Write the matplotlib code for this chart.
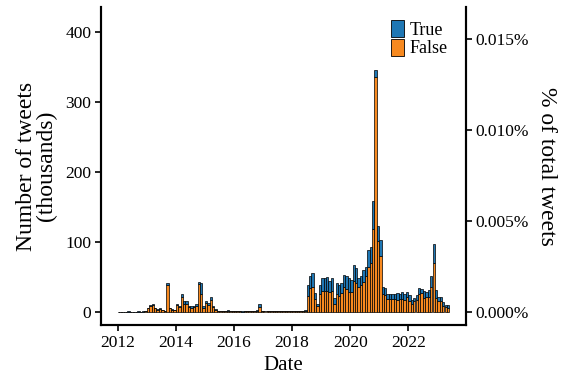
import numpy as np
import pandas as pd
import matplotlib
matplotlib.use("Agg")
import matplotlib.pyplot as plt
import matplotlib.dates as mdates
from matplotlib.patches import Patch
from matplotlib.ticker import FuncFormatter, MultipleLocator

plt.rcParams['font.family'] = ['Liberation Serif', 'DejaVu Serif']

# Monthly tweet counts (thousands), Jan 2012 - May 2023
months = pd.date_range("2012-01-01", "2023-05-01", freq="MS")

true_k = [
    # 2012
    0.1, 0.1, 0.1, 0.1, 0.2, 0.1, 0.1, 0.1, 0.2, 0.1, 0.2, 0.3,
    # 2013
    1, 2, 2, 1, 0.5, 1, 0.5, 0.5, 3, 1, 0.5, 0.5,
    # 2014
    2, 2, 5, 4, 4, 2, 2, 2, 3, 3, 16, 2,
    # 2015
    3, 3, 5, 2, 1, 0.5, 0.5, 0.3, 0.4, 0.8, 0.4, 0.3,
    # 2016
    0.3, 0.4, 0.3, 0.3, 0.4, 0.3, 0.3, 0.4, 0.3, 1, 5, 0.5,
    # 2017
    0.4, 0.3, 0.4, 0.5, 0.4, 0.3, 0.4, 0.5, 0.4, 0.4, 0.5, 0.4,
    # 2018
    0.5, 0.4, 0.5, 0.6, 0.5, 0.6, 16, 18, 19, 8, 4, 13,
    # 2019
    19, 18, 20, 16, 19, 8, 17, 16, 14, 17, 18, 19,
    # 2020
    17, 23, 22, 14, 13, 17, 12, 25, 22, 40, 11, 22,
    # 2021
    22, 10, 10, 8, 7, 8, 7, 10, 7, 9, 9, 8,
    # 2022
    9, 5, 5, 7, 9, 6, 10, 6, 9, 16, 27, 11,
    # 2023
    6, 6, 5, 3, 4,
]

false_k = [
    # 2012
    0.3, 0.4, 0.3, 0.4, 0.5, 0.4, 0.3, 0.4, 0.5, 0.4, 0.6, 0.8,
    # 2013
    5, 8, 10, 5, 3, 4, 2.5, 1.5, 38, 5, 3, 2.5,
    # 2014
    10, 7, 21, 12, 11, 7, 6, 7, 9, 40, 26, 6,
    # 2015
    13, 10, 17, 7, 3, 1.5, 1, 0.8, 1, 1.5, 1, 0.8,
    # 2016
    0.7, 0.9, 0.8, 0.6, 1, 0.8, 0.7, 0.9, 0.8, 2, 7, 1,
    # 2017
    0.9, 0.8, 1, 1.2, 0.9, 0.8, 1, 1.1, 0.9, 1, 1.2, 1,
    # 2018
    1.2, 1, 1.3, 1.4, 1.2, 1.5, 23, 34, 36, 19, 8, 25,
    # 2019
    30, 30, 30, 28, 30, 12, 25, 23, 27, 36, 33, 29,
    # 2020
    29, 44, 41, 35, 38, 43, 52, 64, 70, 119, 335, 101,
    # 2021
    80, 25, 24, 18, 18, 18, 19, 17, 18, 19, 17, 21,
    # 2022
    15, 12, 15, 17, 25, 27, 20, 22, 22, 36, 70, 20,
    # 2023
    15, 15, 9, 7, 6,
]

pct_ticks = [0.0, 0.005, 0.010, 0.015]

# thousands of tweets -> percent of all tweets
pct_per_thousand = 0.015 / 390.0

fig = plt.figure(figsize=(5.62, 3.77), dpi=100)
ax = fig.add_axes([0.18, 0.138, 0.649, 0.843])

x = months + pd.Timedelta(days=15)
w = 30
ax.bar(x, false_k, width=w, color="#f7891f", edgecolor="black", linewidth=0.5, label="False")
ax.bar(x, true_k, width=w, bottom=false_k, color="#1f77b4", edgecolor="black", linewidth=0.5, label="True")

ylo, yhi = -18.6, 435
ax.set_ylim(ylo, yhi)
ax.yaxis.set_major_locator(MultipleLocator(100))
ax.xaxis.set_major_locator(mdates.YearLocator(2))
ax.xaxis.set_major_formatter(mdates.DateFormatter("%Y"))

ax2 = ax.twinx()
ax2.set_ylim(ylo * pct_per_thousand, yhi * pct_per_thousand)
ax2.set_yticks(pct_ticks)
ax2.yaxis.set_major_formatter(FuncFormatter(lambda v, p: f"{v:.3f}%"))

for a in (ax, ax2):
    a.spines['top'].set_visible(False)
    for s in ('left', 'right', 'bottom'):
        a.spines[s].set_linewidth(1.5)
    a.tick_params(width=1.2, length=4, labelsize=12.5, pad=3)

ax.set_xlabel("Date", fontsize=15, labelpad=4)
ax.set_ylabel("Number of tweets\n(thousands)", fontsize=17, labelpad=6, linespacing=0.95)
ax2.set_ylabel("% of total tweets", fontsize=17, rotation=270, labelpad=20)

handles = [Patch(facecolor="#1f77b4", edgecolor="black", linewidth=0.6),
           Patch(facecolor="#f7891f", edgecolor="black", linewidth=0.6)]
ax.legend(handles, ["True", "False"], loc="upper right", frameon=False, fontsize=13,
          handlelength=0.75, handleheight=1.1, handletextpad=0.3, labelspacing=0.0,
          borderaxespad=0.3, bbox_to_anchor=(0.985, 1.0))

fig.savefig("out.png", dpi=100)
